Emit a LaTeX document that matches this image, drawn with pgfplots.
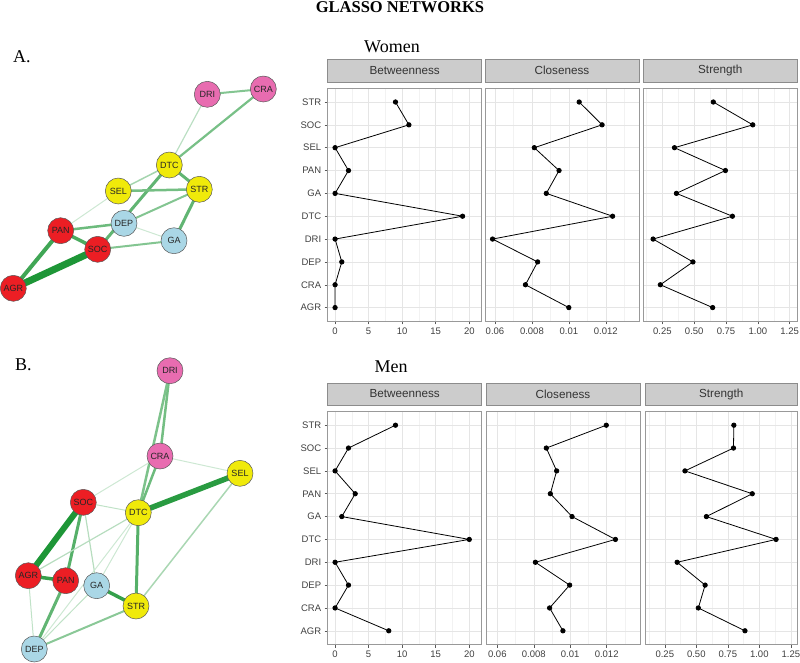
\documentclass[border=0pt]{standalone}
\usepackage{pgfplots}
\pgfplotsset{compat=1.18}
\usepackage{fontspec}
\setmainfont{Liberation Sans}
\newfontfamily\serif{Liberation Serif}

\definecolor{nred}{RGB}{236,30,36}
\definecolor{npink}{RGB}{232,108,176}
\definecolor{nyellow}{RGB}{240,234,10}
\definecolor{nblue}{RGB}{170,215,230}
\definecolor{egreen}{RGB}{30,150,55}
\definecolor{stripfill}{RGB}{204,204,204}

% edge: width, intensity, x1, y1, x2, y2 (pixel coordinates)
\newcommand{\edge}[6]{\addplot[line width=#1pt, color=egreen!#2!white, forget plot] coordinates {(#3,#4) (#5,#6)};}

\pgfplotsset{
  netnode/.style={only marks, mark=*, mark size=13pt,
    mark options={fill=#1, draw=black!65, line width=0.5pt},
    point meta=explicit symbolic, nodes near coords,
    every node near coord/.append style={anchor=center, inner sep=0pt,
      font=\fontsize{9}{9}\selectfont, text=black!85}},
  panel/.style={
    scale only axis, width=154pt, height=233pt, anchor=north west,
    ymin=0.4, ymax=10.6, ytick={1,...,10},
    yticklabels={AGR,CRA,DEP,DRI,DTC,GA,PAN,SEL,SOC,STR},
    xtick pos=bottom, ytick pos=left, tick align=outside,
    major tick length=3pt, minor tick length=0pt,
    tick style={draw=black!65, line width=0.5pt},
    axis line style={draw=black!40, line width=0.6pt},
    xmajorgrids, ymajorgrids, xminorgrids,
    major grid style={draw=black!10, line width=0.5pt},
    minor grid style={draw=black!5, line width=0.3pt},
    ticklabel style={font=\fontsize{9.5}{10}\selectfont, text=black!75},
    scaled x ticks=false,
    /pgf/number format/assume math mode=true,
    title style={at={(0.5,1)}, anchor=south, yshift=0pt, fill=stripfill,
      draw=black!45, line width=0.5pt, minimum width=154pt,
      minimum height=22.5pt, inner sep=0pt,
      font=\fontsize{11.7}{12}\selectfont, text=black!80},
  },
  inner/.style={ymajorticks=false},
  series/.style={black, line width=0.8pt, mark=*, mark size=2.2pt},
  btw/.style={title={Betweenness}, xmin=-1.1, xmax=21.85, xtick={0,5,10,15,20},
    xticklabels={0,5,10,15,20}, minor xtick={2.5,7.5,12.5,17.5}},
  clo/.style={title={Closeness}, xtick={0.006,0.008,0.010,0.012},
    xticklabels={0.06,0.008,0.01,0.012}, minor xtick={0.007,0.009,0.011,0.013}},
  str/.style={title={Strength}, xtick={0.25,0.5,0.75,1,1.25},
    xticklabels={0.25,0.50,0.75,1.00,1.25},
    minor xtick={0.125,0.375,0.625,0.875,1.125}},
}

\begin{document}
\begin{tikzpicture}
\path[use as bounding box] (0pt,0pt) rectangle (800pt,-663pt);

% headings
\node[anchor=base] at (400pt,-13pt) {\serif\bfseries\fontsize{16.5}{16}\selectfont GLASSO NETWORKS};
\node[anchor=base] at (392pt,-52.5pt) {\serif\fontsize{18}{18}\selectfont Women};
\node[anchor=base] at (391pt,-372pt) {\serif\fontsize{18}{18}\selectfont Men};
\node[anchor=base west, inner sep=0pt] at (13pt,-63pt) {\serif\fontsize{18}{18}\selectfont A.};
\node[anchor=base west, inner sep=0pt] at (15pt,-370pt) {\serif\fontsize{18}{18}\selectfont B.};

% networks (pixel coordinates)
\begin{axis}[scale only axis, width=300pt, height=663pt, anchor=north west,
  at={(0pt,0pt)}, xmin=0, xmax=300, ymin=0, ymax=663, y dir=reverse,
  hide axis, clip=false]
% women
\edge{1.2}{30}{207.3}{94.3}{169.3}{165}
\edge{2}{55}{207.3}{94.3}{263.3}{89}
\edge{2.2}{60}{263.3}{89}{169.3}{165}
\edge{1.5}{40}{169.3}{165}{118.3}{191}
\edge{3}{70}{169.3}{165}{199.3}{189.3}
\edge{3}{70}{169.3}{165}{97.7}{249.3}
\edge{2.5}{62}{118.3}{191}{199.3}{189.3}
\edge{1}{22}{118.3}{191}{60.7}{230.7}
\edge{2}{55}{199.3}{189.3}{124}{223.3}
\edge{3}{70}{199.3}{189.3}{174}{240.7}
\edge{2.5}{65}{60.7}{230.7}{124}{223.3}
\edge{1}{22}{124}{223.3}{174}{240.7}
\edge{3.5}{80}{60.7}{230.7}{97.7}{249.3}
\edge{2}{55}{97.7}{249.3}{174}{240.7}
\edge{4}{85}{60.7}{230.7}{13.3}{288.3}
\edge{7}{100}{97.7}{249.3}{13.3}{288.3}
% men
\edge{2.5}{62}{170}{370.7}{160}{456}
\edge{2.5}{58}{170}{370.7}{138.3}{512.7}
\edge{2.5}{65}{160}{456}{138.3}{512.7}
\edge{1}{22}{160}{456}{240}{473.3}
\edge{1}{22}{160}{456}{83.3}{502.3}
\edge{5.5}{95}{240}{473.3}{138.3}{512.7}
\edge{1.5}{38}{240}{473.3}{136}{606}
\edge{1}{28}{83.3}{502.3}{138.3}{512.7}
\edge{6}{100}{83.3}{502.3}{28.3}{575.7}
\edge{3}{75}{83.3}{502.3}{65.7}{580.7}
\edge{1.2}{32}{83.3}{502.3}{96.7}{585.7}
\edge{1.2}{32}{138.3}{512.7}{28.3}{575.7}
\edge{3}{75}{138.3}{512.7}{136}{606}
\edge{1}{22}{138.3}{512.7}{96.7}{585.7}
\edge{1}{22}{138.3}{512.7}{34.3}{649}
\edge{3.5}{90}{28.3}{575.7}{65.7}{580.7}
\edge{1}{28}{28.3}{575.7}{34.3}{649}
\edge{3}{70}{65.7}{580.7}{34.3}{649}
\edge{3.5}{90}{96.7}{585.7}{136}{606}
\edge{1}{28}{96.7}{585.7}{34.3}{649}
\edge{2}{52}{136}{606}{34.3}{649}
% nodes
\addplot[netnode=npink] table[meta=lab, row sep=\\] {x y lab\\ 207.3 94.3 DRI\\ 263.3 89 CRA\\ 170 370.7 DRI\\ 160 456 CRA\\};
\addplot[netnode=nyellow] table[meta=lab, row sep=\\] {x y lab\\ 169.3 165 DTC\\ 118.3 191 SEL\\ 199.3 189.3 STR\\ 240 473.3 SEL\\ 138.3 512.7 DTC\\ 136 606 STR\\};
\addplot[netnode=nblue] table[meta=lab, row sep=\\] {x y lab\\ 124 223.3 DEP\\ 174 240.7 GA\\ 96.7 585.7 GA\\ 34.3 649 DEP\\};
\addplot[netnode=nred] table[meta=lab, row sep=\\] {x y lab\\ 60.7 230.7 PAN\\ 97.7 249.3 SOC\\ 13.3 288.3 AGR\\ 83.3 502.3 SOC\\ 28.3 575.7 AGR\\ 65.7 580.7 PAN\\};
\end{axis}

% women panels (AGR ... STR from bottom to top)
\begin{axis}[panel, btw, at={(327.7pt,-88.3pt)}]
\addplot[series] coordinates {(0,1) (0,2) (1,3) (0,4) (19,5) (0,6) (2,7) (0,8) (11,9) (9,10)};
\end{axis}
\begin{axis}[panel, inner, clo, at={(485pt,-88.3pt)}, xmin=0.00546, xmax=0.0138]
\addplot[series] coordinates {(0.0100,1) (0.00765,2) (0.00831,3) (0.00587,4) (0.01237,5)
  (0.00878,6) (0.00947,7) (0.00813,8) (0.0118,9) (0.01056,10)};
\end{axis}
\begin{axis}[panel, inner, str, at={(643.3pt,-88.3pt)}, xmin=0.10, xmax=1.31]
\addplot[series] coordinates {(0.645,1) (0.234,2) (0.49,3) (0.177,4) (0.80,5)
  (0.36,6) (0.745,7) (0.345,8) (0.96,9) (0.65,10)};
\end{axis}

% men panels
\begin{axis}[panel, btw, at={(327.7pt,-411.5pt)}]
\addplot[series] coordinates {(8,1) (0,2) (2,3) (0,4) (20,5) (1,6) (3,7) (0,8) (2,9) (9,10)};
\end{axis}
\begin{axis}[panel, inner, clo, at={(486pt,-411.5pt)}, xmin=0.00538, xmax=0.01383]
\addplot[series] coordinates {(0.0096,1) (0.00887,2) (0.00997,3) (0.00809,4) (0.01248,5)
  (0.0101,6) (0.00891,7) (0.009256,8) (0.00869,9) (0.01198,10)};
\end{axis}
\begin{axis}[panel, inner, str, at={(645pt,-411.5pt)}, xmin=0.093, xmax=1.303, width=152.5pt,
  title style={minimum width=152.5pt}]
\addplot[series] coordinates {(0.886,1) (0.516,2) (0.57,3) (0.348,4) (1.133,5)
  (0.58,6) (0.944,7) (0.41,8) (0.795,9) (0.798,10)};
\end{axis}
\end{tikzpicture}
\end{document}
